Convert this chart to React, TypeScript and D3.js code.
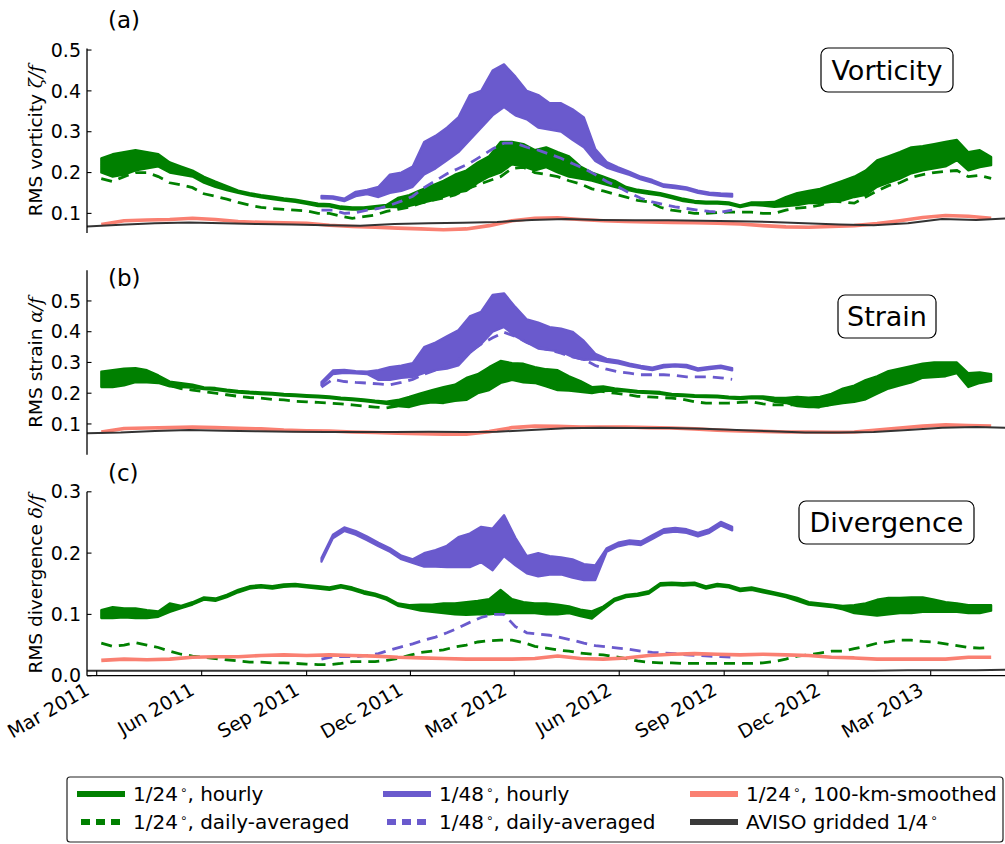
import React from 'react';
import * as d3 from 'd3';

// ---- sampling of the records: start date and spacing (days) ----
const START_1_24 = '2011-03-05';
const START_1_48 = '2011-09-14';
const START_SMOOTHED = '2011-03-05';
const START_AVISO = '2011-02-20';
const STEP_HOURLY = 10;
const STEP_SMOOTHED = 20;
const STEP_AVISO = 30;

// ---- (a) vorticity ----
const vortHourly24Lo = [0.20,0.19,0.195,0.205,0.21,0.215,0.20,0.195,0.19,0.175,
  0.165,0.157,0.15,0.144,0.139,0.135,0.131,0.128,0.123,0.118,
  0.117,0.111,0.109,0.109,0.112,0.115,0.115,0.118,0.125,0.132,
  0.14,0.15,0.155,0.175,0.19,0.20,0.22,0.215,0.205,0.213,
  0.20,0.19,0.185,0.18,0.172,0.165,0.158,0.152,0.148,0.144,
  0.137,0.13,0.126,0.124,0.124,0.122,0.115,0.121,0.119,0.116,
  0.118,0.12,0.125,0.125,0.128,0.132,0.14,0.145,0.165,0.175,
  0.185,0.198,0.205,0.21,0.215,0.23,0.205,0.213,0.218];
const vortHourly24Hi = [0.235,0.245,0.25,0.255,0.25,0.245,0.225,0.215,0.205,0.19,
  0.178,0.167,0.156,0.15,0.145,0.141,0.137,0.134,0.129,0.124,
  0.123,0.117,0.115,0.115,0.118,0.121,0.138,0.145,0.157,0.168,
  0.18,0.195,0.205,0.225,0.24,0.275,0.275,0.27,0.255,0.262,
  0.25,0.24,0.215,0.20,0.19,0.18,0.165,0.158,0.154,0.15,
  0.143,0.136,0.131,0.129,0.129,0.127,0.12,0.127,0.127,0.128,
  0.14,0.15,0.155,0.16,0.17,0.18,0.19,0.205,0.23,0.24,
  0.25,0.262,0.265,0.27,0.275,0.28,0.25,0.255,0.238];
const vortDaily24 = [0.185,0.178,0.19,0.2,0.2,0.19,0.175,0.17,0.163,0.148,
  0.142,0.135,0.127,0.12,0.115,0.112,0.11,0.108,0.106,0.1,
  0.1,0.093,0.088,0.092,0.096,0.105,0.11,0.115,0.125,0.132,
  0.138,0.145,0.16,0.17,0.18,0.19,0.21,0.213,0.2,0.195,
  0.19,0.18,0.172,0.16,0.155,0.147,0.14,0.132,0.128,0.115,
  0.108,0.104,0.1,0.1,0.102,0.103,0.103,0.103,0.1,0.1,
  0.108,0.113,0.115,0.12,0.13,0.128,0.125,0.14,0.155,0.168,
  0.175,0.188,0.195,0.2,0.203,0.205,0.19,0.193,0.186];
const vortHourly48Lo = [0.137,0.136,0.13,0.142,0.147,0.14,0.15,0.155,0.165,0.195,
  0.21,0.23,0.25,0.28,0.31,0.34,0.36,0.34,0.33,0.31,
  0.305,0.30,0.28,0.262,0.228,0.212,0.203,0.194,0.183,0.175,
  0.165,0.162,0.158,0.15,0.145,0.143,0.141];
const vortHourly48Hi = [0.143,0.142,0.136,0.153,0.158,0.165,0.195,0.20,0.215,0.275,
  0.29,0.31,0.335,0.39,0.40,0.45,0.465,0.435,0.40,0.39,
  0.37,0.37,0.355,0.335,0.258,0.226,0.213,0.202,0.19,0.182,
  0.171,0.168,0.164,0.156,0.151,0.149,0.148];
const vortDaily48 = [0.108,0.108,0.1,0.102,0.108,0.112,0.12,0.13,0.142,0.163,
  0.18,0.197,0.21,0.223,0.24,0.258,0.272,0.272,0.262,0.255,
  0.245,0.235,0.222,0.21,0.195,0.178,0.165,0.15,0.137,0.128,
  0.122,0.116,0.112,0.108,0.105,0.103,0.108];
const vortSmoothed = [0.073,0.082,0.084,0.085,0.088,0.085,0.08,0.078,0.077,0.076,
  0.071,0.068,0.066,0.064,0.062,0.06,0.062,0.07,0.082,0.088,
  0.089,0.085,0.082,0.08,0.079,0.078,0.077,0.076,0.074,0.07,
  0.067,0.066,0.068,0.07,0.075,0.082,0.09,0.095,0.093,0.088];
const vortAviso = [0.068,0.072,0.076,0.078,0.076,0.074,0.073,0.071,0.07,0.074,
  0.076,0.077,0.079,0.084,0.086,0.084,0.083,0.083,0.082,0.081,
  0.079,0.076,0.073,0.071,0.076,0.086,0.084,0.088];

// ---- (b) strain ----
const strainHourly24Lo = [0.22,0.22,0.225,0.236,0.235,0.233,0.222,0.22,0.218,0.213,
  0.211,0.206,0.202,0.199,0.197,0.195,0.192,0.19,0.188,0.186,
  0.184,0.18,0.177,0.174,0.17,0.165,0.158,0.155,0.165,0.17,
  0.168,0.175,0.178,0.20,0.21,0.233,0.243,0.235,0.233,0.222,
  0.21,0.208,0.204,0.20,0.207,0.208,0.206,0.202,0.2,0.198,
  0.192,0.19,0.188,0.187,0.186,0.183,0.181,0.184,0.182,0.172,
  0.168,0.158,0.155,0.155,0.162,0.168,0.172,0.18,0.198,0.215,
  0.225,0.235,0.25,0.252,0.255,0.265,0.22,0.233,0.24];
const strainHourly24Hi = [0.27,0.275,0.28,0.282,0.275,0.258,0.238,0.233,0.228,0.219,
  0.217,0.212,0.208,0.205,0.203,0.201,0.198,0.196,0.194,0.192,
  0.19,0.186,0.183,0.18,0.176,0.173,0.178,0.188,0.20,0.21,
  0.22,0.228,0.25,0.262,0.285,0.305,0.298,0.296,0.285,0.278,
  0.275,0.255,0.24,0.22,0.222,0.216,0.212,0.208,0.206,0.204,
  0.198,0.196,0.194,0.193,0.192,0.189,0.187,0.19,0.19,0.186,
  0.185,0.188,0.186,0.188,0.198,0.215,0.225,0.243,0.255,0.272,
  0.28,0.288,0.296,0.3,0.3,0.3,0.265,0.268,0.262];
const strainDaily24 = [0.235,0.24,0.245,0.25,0.245,0.238,0.225,0.215,0.21,0.205,
  0.2,0.195,0.19,0.186,0.184,0.18,0.178,0.174,0.172,0.17,
  0.168,0.165,0.162,0.158,0.155,0.152,0.158,0.165,0.172,0.178,
  0.182,0.19,0.205,0.22,0.24,0.26,0.272,0.265,0.258,0.25,
  0.243,0.235,0.222,0.212,0.205,0.2,0.196,0.19,0.188,0.186,
  0.184,0.18,0.172,0.168,0.168,0.168,0.17,0.172,0.165,0.162,
  0.162,0.162,0.158,0.155,0.165,0.175,0.185,0.198,0.21,0.225,
  0.235,0.245,0.255,0.262,0.265,0.27,0.245,0.245,0.245];
const strainHourly48Lo = [0.226,0.262,0.266,0.264,0.262,0.243,0.243,0.25,0.253,0.266,
  0.275,0.28,0.29,0.33,0.36,0.40,0.415,0.385,0.365,0.345,
  0.34,0.335,0.318,0.308,0.31,0.302,0.297,0.288,0.281,0.275,
  0.284,0.287,0.284,0.273,0.278,0.282,0.274];
const strainHourly48Hi = [0.236,0.274,0.276,0.272,0.27,0.275,0.285,0.29,0.298,0.35,
  0.365,0.385,0.405,0.45,0.465,0.52,0.525,0.48,0.44,0.43,
  0.415,0.41,0.40,0.37,0.328,0.312,0.306,0.296,0.289,0.283,
  0.292,0.294,0.292,0.281,0.286,0.29,0.282];
const strainDaily48 = [0.22,0.245,0.238,0.235,0.233,0.23,0.227,0.235,0.245,0.262,
  0.275,0.295,0.31,0.335,0.36,0.38,0.398,0.385,0.365,0.35,
  0.34,0.33,0.318,0.31,0.29,0.278,0.27,0.265,0.26,0.26,
  0.26,0.258,0.253,0.253,0.253,0.25,0.245];
const strainSmoothed = [0.074,0.085,0.087,0.088,0.09,0.088,0.086,0.084,0.08,0.078,
  0.077,0.074,0.072,0.07,0.068,0.067,0.067,0.075,0.088,0.093,
  0.092,0.09,0.09,0.09,0.088,0.087,0.084,0.08,0.077,0.076,
  0.074,0.074,0.073,0.074,0.08,0.087,0.093,0.097,0.095,0.093];
const strainAviso = [0.07,0.072,0.077,0.08,0.078,0.076,0.075,0.074,0.074,0.074,
  0.075,0.074,0.075,0.08,0.086,0.088,0.087,0.087,0.084,0.08,
  0.076,0.072,0.072,0.074,0.08,0.088,0.09,0.087];

// ---- (c) divergence ----
const divHourly24Lo = [0.094,0.094,0.095,0.094,0.094,0.096,0.104,0.11,0.116,0.124,
  0.122,0.128,0.136,0.142,0.144,0.142,0.145,0.146,0.144,0.142,
  0.14,0.144,0.14,0.134,0.13,0.124,0.114,0.11,0.106,0.104,
  0.102,0.10,0.099,0.10,0.10,0.102,0.102,0.102,0.102,0.10,
  0.10,0.102,0.097,0.093,0.108,0.122,0.128,0.13,0.134,0.147,
  0.148,0.147,0.148,0.142,0.146,0.144,0.138,0.14,0.136,0.132,
  0.128,0.122,0.116,0.114,0.112,0.108,0.102,0.10,0.098,0.10,
  0.102,0.102,0.104,0.104,0.104,0.104,0.102,0.102,0.106];
const divHourly24Hi = [0.107,0.112,0.11,0.11,0.107,0.105,0.118,0.114,0.12,0.128,
  0.126,0.132,0.14,0.146,0.148,0.146,0.149,0.15,0.148,0.146,
  0.144,0.148,0.144,0.138,0.134,0.128,0.118,0.115,0.116,0.116,
  0.118,0.118,0.12,0.122,0.125,0.14,0.125,0.12,0.118,0.118,
  0.116,0.113,0.108,0.105,0.113,0.126,0.132,0.134,0.138,0.151,
  0.152,0.151,0.152,0.146,0.15,0.148,0.142,0.144,0.14,0.136,
  0.132,0.127,0.12,0.118,0.116,0.114,0.115,0.118,0.124,0.127,
  0.127,0.128,0.128,0.124,0.12,0.118,0.115,0.115,0.115];
const divDaily24 = [0.053,0.048,0.05,0.054,0.05,0.046,0.04,0.035,0.032,0.03,
  0.028,0.026,0.024,0.022,0.022,0.021,0.021,0.02,0.019,0.018,
  0.018,0.02,0.023,0.023,0.023,0.025,0.028,0.033,0.038,0.04,
  0.042,0.047,0.05,0.055,0.057,0.058,0.058,0.054,0.048,0.045,
  0.042,0.04,0.037,0.035,0.034,0.031,0.028,0.024,0.022,0.021,
  0.021,0.02,0.02,0.02,0.02,0.02,0.02,0.02,0.021,0.023,
  0.027,0.032,0.034,0.037,0.04,0.04,0.044,0.048,0.053,0.055,
  0.058,0.058,0.056,0.055,0.052,0.049,0.046,0.045,0.046];
const divHourly48Lo = [0.186,0.224,0.236,0.23,0.221,0.211,0.202,0.19,0.184,0.178,
  0.178,0.177,0.177,0.177,0.185,0.172,0.195,0.18,0.167,0.162,
  0.165,0.165,0.16,0.156,0.156,0.202,0.211,0.215,0.213,0.223,
  0.233,0.235,0.233,0.227,0.233,0.245,0.237];
const divHourly48Hi = [0.192,0.23,0.242,0.236,0.227,0.217,0.208,0.196,0.19,0.2,
  0.205,0.212,0.226,0.232,0.243,0.24,0.262,0.225,0.195,0.2,
  0.195,0.193,0.19,0.182,0.18,0.208,0.217,0.221,0.219,0.229,
  0.239,0.241,0.239,0.233,0.239,0.251,0.243];
const divDaily48 = [0.027,0.031,0.031,0.031,0.033,0.036,0.042,0.047,0.052,0.058,
  0.063,0.07,0.078,0.087,0.095,0.1,0.1,0.08,0.07,0.068,
  0.066,0.062,0.058,0.053,0.049,0.047,0.045,0.043,0.04,0.038,
  0.037,0.036,0.034,0.033,0.032,0.031,0.03];
const divSmoothed = [0.025,0.027,0.026,0.027,0.03,0.031,0.031,0.033,0.034,0.033,
  0.034,0.033,0.032,0.03,0.029,0.028,0.027,0.027,0.027,0.028,
  0.032,0.028,0.027,0.029,0.033,0.035,0.036,0.035,0.034,0.035,
  0.034,0.033,0.03,0.029,0.027,0.027,0.027,0.027,0.03,0.03];
const divAviso = [0.008,0.008,0.008,0.008,0.008,0.008,0.008,0.008,0.008,0.008,
  0.008,0.008,0.008,0.008,0.008,0.008,0.008,0.008,0.008,0.008,
  0.008,0.008,0.008,0.008,0.009,0.009,0.009,0.01];

// ---- axes ----
const X_TICK_DATES = ['2011-03-01','2011-06-01','2011-09-01','2011-12-01','2012-03-01',
  '2012-06-01','2012-09-01','2012-12-01','2013-03-01'];
const Y_TICKS_VORT = [0.1,0.2,0.3,0.4,0.5];
const Y_TICKS_STRAIN = [0.1,0.2,0.3,0.4,0.5];
const Y_TICKS_DIV = [0.0,0.1,0.2,0.3];

const LEGEND_LABELS = [
  ['1/24', ', hourly'],
  ['1/24', ', daily-averaged'],
  ['1/48', ', hourly'],
  ['1/48', ', daily-averaged'],
  ['1/24', ', 100-km-smoothed'],
  ['AVISO gridded 1/4', ''],
];

const GREEN = '#008000';
const PURPLE = '#6a5acd';
const SALMON = '#fa8072';
const DARK = '#333333';
const FONT = 'DejaVu Sans, sans-serif';

const parseDay = d3.utcParse('%Y-%m-%d');
const fmtTick = d3.utcFormat('%b %Y');
const fmtY = d3.format('.1f');

function sampleDates(start: string, step: number, n: number): Date[] {
  const d0 = parseDay(start) as Date;
  return d3.range(n).map((i) => d3.utcDay.offset(d0, i * step));
}

const x = d3.scaleUtc()
  .domain([parseDay('2011-03-01') as Date, parseDay('2013-03-01') as Date])
  .range([96.7, 930.7]);
const X_LEFT = 87;
const X_RIGHT = 1005;

type Panel = {
  key: string;
  y: d3.ScaleLinear<number, number>;
  ticks: number[];
  label: string;
  symbol: string;
  tag: string;
  tagY: number;
  title: string;
  box: { cx: number; cy: number; w: number; h: number };
  lo24: number[]; hi24: number[]; daily24: number[];
  lo48: number[]; hi48: number[]; daily48: number[];
  smoothed: number[]; aviso: number[];
  xAxis: boolean;
};

const panels: Panel[] = [
  {
    key: 'a', y: d3.scaleLinear().domain([0.052, 0.504]).range([233, 48.4]),
    ticks: Y_TICKS_VORT, label: 'RMS vorticity ', symbol: 'ζ/f', tag: '(a)', tagY: 28,
    title: 'Vorticity', box: { cx: 887, cy: 70, w: 132, h: 44 },
    lo24: vortHourly24Lo, hi24: vortHourly24Hi, daily24: vortDaily24,
    lo48: vortHourly48Lo, hi48: vortHourly48Hi, daily48: vortDaily48,
    smoothed: vortSmoothed, aviso: vortAviso, xAxis: false,
  },
  {
    key: 'b', y: d3.scaleLinear().domain([0, 0.6]).range([454.7, 270.2]),
    ticks: Y_TICKS_STRAIN, label: 'RMS strain ', symbol: 'α/f', tag: '(b)', tagY: 286,
    title: 'Strain', box: { cx: 887, cy: 316.5, w: 98, h: 43 },
    lo24: strainHourly24Lo, hi24: strainHourly24Hi, daily24: strainDaily24,
    lo48: strainHourly48Lo, hi48: strainHourly48Hi, daily48: strainDaily48,
    smoothed: strainSmoothed, aviso: strainAviso, xAxis: false,
  },
  {
    key: 'c', y: d3.scaleLinear().domain([0, 0.3]).range([675.7, 491.8]),
    ticks: Y_TICKS_DIV, label: 'RMS divergence ', symbol: 'δ/f', tag: '(c)', tagY: 481,
    title: 'Divergence', box: { cx: 886.5, cy: 522.5, w: 175, h: 43 },
    lo24: divHourly24Lo, hi24: divHourly24Hi, daily24: divDaily24,
    lo48: divHourly48Lo, hi48: divHourly48Hi, daily48: divDaily48,
    smoothed: divSmoothed, aviso: divAviso, xAxis: true,
  },
];

function bandPath(dates: Date[], lo: number[], hi: number[], y: d3.ScaleLinear<number, number>) {
  return d3.area<number>()
    .x((_, i) => x(dates[i]))
    .y0((_, i) => y(lo[i]))
    .y1((_, i) => y(hi[i]))(lo) || '';
}

function linePath(dates: Date[], vals: number[], y: d3.ScaleLinear<number, number>) {
  return d3.line<number>()
    .x((_, i) => x(dates[i]))
    .y((d) => y(d))(vals) || '';
}

function PanelView({ p }: { p: Panel }) {
  const d24 = sampleDates(START_1_24, STEP_HOURLY, p.lo24.length);
  const d48 = sampleDates(START_1_48, STEP_HOURLY, p.lo48.length);
  const dSm = sampleDates(START_SMOOTHED, STEP_SMOOTHED, p.smoothed.length);
  const dAv = sampleDates(START_AVISO, STEP_AVISO, p.aviso.length);
  const [yBottom, yTop] = p.y.range();
  const yMid = (yBottom + yTop) / 2;
  return (
    <g>
      <g clipPath="url(#plotClip)">
        <path d={bandPath(d24, p.lo24, p.hi24, p.y)} fill={GREEN} stroke={GREEN}
          strokeWidth={2.2} strokeLinejoin="round" />
        <path d={bandPath(d48, p.lo48, p.hi48, p.y)} fill={PURPLE} stroke={PURPLE}
          strokeWidth={2.2} strokeLinejoin="round" />
        <path d={linePath(d24, p.daily24, p.y)} fill="none" stroke={GREEN}
          strokeWidth={2.8} strokeDasharray="11,7" />
        <path d={linePath(d48, p.daily48, p.y)} fill="none" stroke={PURPLE}
          strokeWidth={2.8} strokeDasharray="11,7" />
        <path d={linePath(dSm, p.smoothed, p.y)} fill="none" stroke={SALMON}
          strokeWidth={3.6} strokeLinejoin="round" />
        <path d={linePath(dAv, p.aviso, p.y)} fill="none" stroke={DARK}
          strokeWidth={2} strokeLinejoin="round" />
      </g>
      {/* left spine and ticks */}
      <line x1={X_LEFT} x2={X_LEFT} y1={yBottom} y2={yTop} stroke="#000" strokeWidth={1.3} />
      {p.ticks.map((t) => (
        <g key={t}>
          <line x1={X_LEFT} x2={X_LEFT + 4.5} y1={p.y(t)} y2={p.y(t)} stroke="#000" strokeWidth={1.1} />
          <text x={81} y={p.y(t)} dy="0.35em" textAnchor="end" fontSize={19} fontFamily={FONT}>
            {fmtY(t)}
          </text>
        </g>
      ))}
      <text transform={`translate(42,${yMid}) rotate(-90)`} textAnchor="middle"
        fontSize={18.5} fontFamily={FONT}>
        {p.label}
        <tspan fontFamily="DejaVu Serif, serif" fontStyle="italic">{p.symbol}</tspan>
      </text>
      <text x={108} y={p.tagY} fontSize={23} fontFamily={FONT}>{p.tag}</text>
      <rect x={p.box.cx - p.box.w / 2} y={p.box.cy - p.box.h / 2} width={p.box.w} height={p.box.h}
        rx={7} fill="#fff" stroke="#000" strokeWidth={1.2} />
      <text x={p.box.cx} y={p.box.cy} dy="0.36em" textAnchor="middle" fontSize={27} fontFamily={FONT}>
        {p.title}
      </text>
      {p.xAxis && (
        <g>
          <line x1={X_LEFT} x2={X_RIGHT} y1={yBottom} y2={yBottom} stroke="#000" strokeWidth={1.3} />
          {X_TICK_DATES.map((s) => {
            const d = parseDay(s) as Date;
            const tx = x(d);
            return (
              <g key={s}>
                <line x1={tx} x2={tx} y1={yBottom} y2={yBottom - 5} stroke="#000" strokeWidth={1.1} />
                <text transform={`translate(${tx - 6},${yBottom + 18}) rotate(-30)`} textAnchor="end"
                  fontSize={19} fontFamily={FONT}>
                  {fmtTick(d)}
                </text>
              </g>
            );
          })}
        </g>
      )}
    </g>
  );
}

const legendStyles = [
  { color: GREEN, dash: undefined },
  { color: GREEN, dash: '9,6' },
  { color: PURPLE, dash: undefined },
  { color: PURPLE, dash: '9,6' },
  { color: SALMON, dash: undefined },
  { color: '#3a3a3a', dash: undefined },
];

function Legend() {
  const cols = [77, 383, 690];
  const rows = [794, 822];
  return (
    <g>
      <rect x={67} y={777} width={936} height={65} rx={3} fill="#fff" stroke="#222" strokeWidth={1.2} />
      {LEGEND_LABELS.map(([a, b], i) => {
        const cx = cols[Math.floor(i / 2)];
        const cy = rows[i % 2];
        const st = legendStyles[i];
        return (
          <g key={i}>
            <line x1={st.dash ? cx + 4 : cx} x2={st.dash ? cx + 43 : cx + 48} y1={cy} y2={cy}
              stroke={st.color} strokeWidth={6} strokeDasharray={st.dash} />
            <text x={cx + 56} y={cy} dy="0.36em" fontSize={20} fontFamily={FONT}>
              {a}
              <tspan dx={2} dy={-7} fontSize={12}>∘</tspan>
              <tspan dy={7}>{b}</tspan>
            </text>
          </g>
        );
      })}
    </g>
  );
}

export default function App() {
  return (
    <svg width={1005} height={844} viewBox="0 0 1005 844"
      style={{ position: 'absolute', left: 0, top: 0, background: '#fff' }}>
      <defs>
        <clipPath id="plotClip">
          <rect x={X_LEFT} y={0} width={X_RIGHT - X_LEFT} height={844} />
        </clipPath>
      </defs>
      <rect x={0} y={0} width={1005} height={844} fill="#fff" />
      {panels.map((p) => <PanelView key={p.key} p={p} />)}
      <Legend />
    </svg>
  );
}
